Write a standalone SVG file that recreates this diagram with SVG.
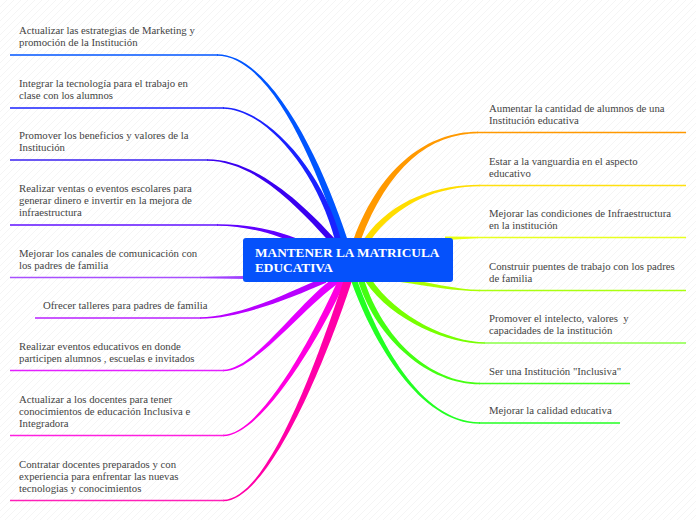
<svg xmlns="http://www.w3.org/2000/svg" width="696" height="520" viewBox="0 0 696 520">
<defs>
<pattern id="bg" width="7" height="7" patternUnits="userSpaceOnUse">
<line x1="0" y1="7" x2="7" y2="0" stroke="#efefef" stroke-width="0.6"/>
</pattern>
<style>
.t{font-family:"Liberation Serif","Times New Roman",serif;font-size:10.75px;fill:#444}
.rt{font-family:"Liberation Serif","Times New Roman",serif;font-size:13.3px;font-weight:bold;fill:#ffffff}
.u{fill:none;stroke-width:1.6}
</style>
</defs>
<rect width="696" height="520" fill="#ffffff"/>
<rect width="696" height="520" fill="url(#bg)"/>
<g id="connectors">
<path fill="#0055ff" d="M217,54.25 C270,54 321.3,158.9 347.3,238.9 L340.7,241.1 C314.7,161.1 270,56 217,55.75 Z"/>
<path fill="#1a22ff" d="M223,107.25 C265,107 322.9,169.25 340.9,239.25 L335.1,240.75 C317.1,170.75 265,109 223,108.75 Z"/>
<path fill="#3a00f0" d="M207,159.25 C255,159 302.2,203 334.2,238 L329.8,242 C297.8,207 255,161 207,160.75 Z"/>
<path fill="#6000ff" d="M217,224.25 C250,224 281.1,230.75 306.1,242.75 L303.9,247.25 C278.9,235.25 250,226 217,225.75 Z"/>
<path fill="#a040ff" d="M200,276.75 L246,276 L246,279 L200,278.25 Z"/>
<path fill="#b800ff" d="M200,318.75 C240,319 291.2,297.8 326.2,282.8 L323.8,277.2 C288.8,292.2 240,317 200,317.25 Z"/>
<path fill="#e400ff" d="M223,371.25 C255,371.5 301.96,307.9 338.96,282.9 L335.04,277.1 C298.04,302.1 255,369.5 223,369.75 Z"/>
<path fill="#ff00e0" d="M223,436.25 C260,436.5 318.2,341.4 345.2,281.4 L338.8,278.6 C311.8,338.6 260,434.5 223,434.75 Z"/>
<path fill="#ff00a8" d="M223,501.25 C265,501.5 318.8,381.25 351.8,281.25 L344.2,278.75 C311.2,378.75 265,499.5 223,499.75 Z"/>
<path fill="#ff9900" d="M478,131.75 C430,131.5 381.7,163.8 353.7,238.8 L360.3,241.2 C388.3,166.2 430,133.5 478,133.25 Z"/>
<path fill="#ffdd00" d="M480,184.75 C440,184.5 392.5,198.3 364.5,238.3 L369.5,241.7 C397.5,201.7 440,186.5 480,186.25 Z"/>
<path fill="#e8ff10" d="M445,236.5 L478,236.75 L478,238.25 L445,240 Z"/>
<path fill="#aaff00" d="M480,289.75 C455,289.75 430,282 400,278 L400,282 C430,286 455,291.25 480,291.25 Z"/>
<path fill="#77ff00" d="M485,342.25 C450,342 397.5,318.3 370.5,278.3 L365.5,281.7 C392.5,321.7 450,344 485,343.75 Z"/>
<path fill="#44ff11" d="M480,382.75 C430,382.5 382.9,339.1 363.9,279.1 L358.1,280.9 C377.1,340.9 430,384.5 480,384.25 Z"/>
<path fill="#22ff22" d="M480,422.25 C420,422 377.8,339 356.8,279 L351.2,281 C372.2,341 420,424 480,423.75 Z"/>
</g>
<g id="root">
<rect x="243" y="238" width="210" height="44" rx="3" fill="#0551fb"/>
<text class="rt" x="255" y="257.3">MANTENER LA MATRICULA</text>
<text class="rt" x="255" y="271.7">EDUCATIVA</text>
</g>
<g id="n1">
<line class="u" x1="10" y1="55" x2="218" y2="55" stroke="#0055ff"/>
<text class="t" x="19" y="33.5">Actualizar las estrategias de Marketing y</text>
<text class="t" x="19" y="45.5">promoción de la Institución</text>
</g>
<g id="n2">
<line class="u" x1="10" y1="108" x2="224" y2="108" stroke="#1a22ff"/>
<text class="t" x="19" y="86.5">Integrar la tecnología para el trabajo en</text>
<text class="t" x="19" y="98.5">clase con los alumnos</text>
</g>
<g id="n3">
<line class="u" x1="10" y1="160" x2="208" y2="160" stroke="#3a20f0"/>
<text class="t" x="19" y="139">Promover los beneficios y valores de la</text>
<text class="t" x="19" y="151">Institución</text>
</g>
<g id="n4">
<line class="u" x1="10" y1="225" x2="218" y2="225" stroke="#6010ff"/>
<text class="t" x="19" y="192">Realizar ventas o eventos escolares para</text>
<text class="t" x="19" y="204">generar dinero e invertir en la mejora de</text>
<text class="t" x="19" y="216">infraestructura</text>
</g>
<g id="n5">
<line class="u" x1="10" y1="277.5" x2="201" y2="277.5" stroke="#a850ff"/>
<text class="t" x="19" y="256.5">Mejorar los canales de comunicación con</text>
<text class="t" x="19" y="268.5">los padres de familia</text>
</g>
<g id="n6">
<line class="u" x1="35" y1="318" x2="201" y2="318" stroke="#b820ff"/>
<text class="t" x="43" y="308.5">Ofrecer talleres para padres de familia</text>
</g>
<g id="n7">
<line class="u" x1="10" y1="370.5" x2="224" y2="370.5" stroke="#e420ff"/>
<text class="t" x="19" y="349.5">Realizar eventos educativos en donde</text>
<text class="t" x="19" y="361.5">participen alumnos , escuelas e invitados</text>
</g>
<g id="n8">
<line class="u" x1="10" y1="435.5" x2="224" y2="435.5" stroke="#ff20e0"/>
<text class="t" x="19" y="402.5">Actualizar a los docentes para tener</text>
<text class="t" x="19" y="414.5">conocimientos de educación Inclusiva e</text>
<text class="t" x="19" y="426.5">Integradora</text>
</g>
<g id="n9">
<line class="u" x1="10" y1="500.5" x2="224" y2="500.5" stroke="#ff20b8"/>
<text class="t" x="19" y="467.5">Contratar docentes preparados y con</text>
<text class="t" x="19" y="479.5">experiencia para enfrentar las nuevas</text>
<text class="t" x="19" y="491.5">tecnologias y conocimientos</text>
</g>
<g id="n10">
<line class="u" x1="477" y1="132.5" x2="686" y2="132.5" stroke="#ff9900"/>
<text class="t" x="489" y="111.5">Aumentar la cantidad de alumnos de una</text>
<text class="t" x="489" y="123.5">Institución educativa</text>
</g>
<g id="n11">
<line class="u" x1="479" y1="185.5" x2="686" y2="185.5" stroke="#ffe010"/>
<text class="t" x="489" y="164.5">Estar a la vanguardia en el aspecto</text>
<text class="t" x="489" y="176.5">educativo</text>
</g>
<g id="n12">
<line class="u" x1="477" y1="237.5" x2="686" y2="237.5" stroke="#e8ff20"/>
<text class="t" x="489" y="216.5">Mejorar las condiciones de Infraestructura</text>
<text class="t" x="489" y="228.5">en la institución</text>
</g>
<g id="n13">
<line class="u" x1="479" y1="290.5" x2="686" y2="290.5" stroke="#aaff10"/>
<text class="t" x="489" y="269.5">Construir puentes de trabajo con los padres</text>
<text class="t" x="489" y="281.5">de familia</text>
</g>
<g id="n14">
<line class="u" x1="484" y1="343" x2="686" y2="343" stroke="#88ff44"/>
<text class="t" x="489" y="322" xml:space="preserve">Promover el intelecto, valores  y</text>
<text class="t" x="489" y="334">capacidades de la institución</text>
</g>
<g id="n15">
<line class="u" x1="479" y1="383.5" x2="630" y2="383.5" stroke="#44ff22"/>
<text class="t" x="489" y="374.5">Ser una Institución "Inclusiva"</text>
</g>
<g id="n16">
<line class="u" x1="479" y1="423" x2="620" y2="423" stroke="#22ff22"/>
<text class="t" x="489" y="414">Mejorar la calidad educativa</text>
</g>
</svg>
